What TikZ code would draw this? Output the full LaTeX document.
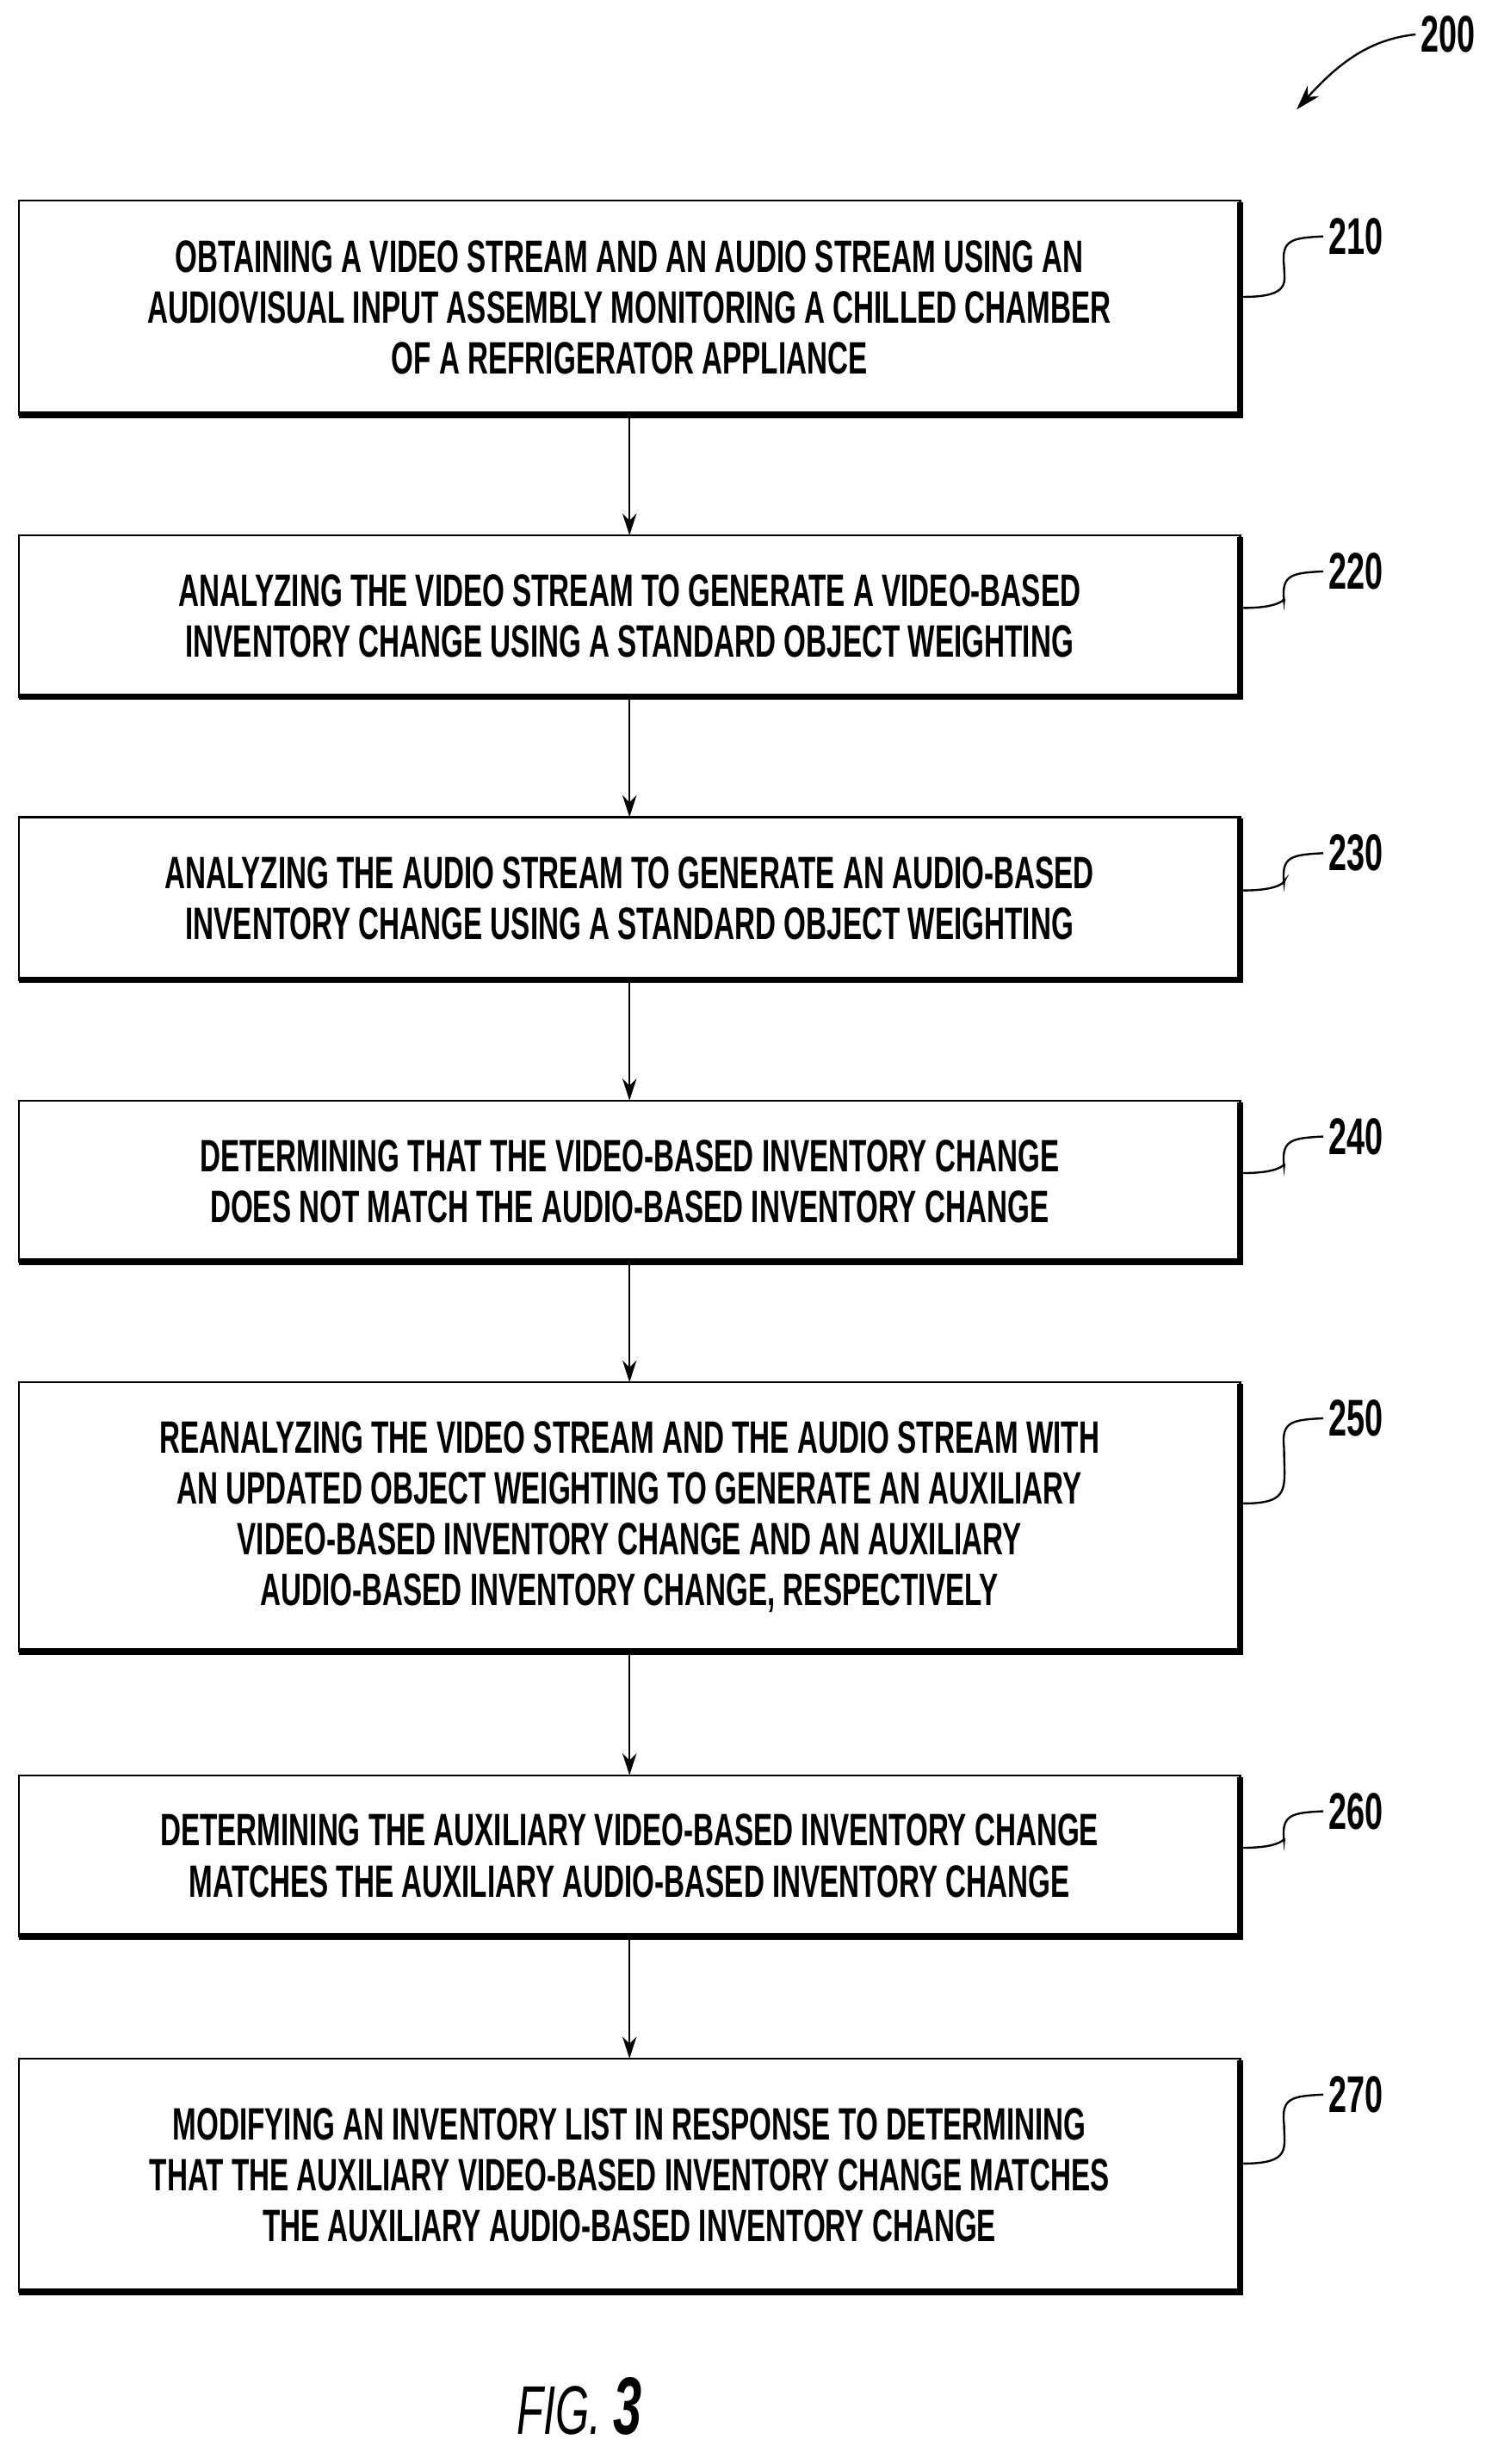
\documentclass[tikz,border=0pt]{standalone}
\usepackage{fontspec}
\setmainfont{Liberation Sans}[FakeStretch=0.63]
\usetikzlibrary{arrows.meta}
\begin{document}
\begin{tikzpicture}[x=1pt,y=-1pt,
  txt/.style={align=center,font=\fontsize{29}{32.5}\selectfont\bfseries},
  arr/.style={-{Stealth[length=14pt,width=9pt]},line width=1.3pt},
  lbl/.style={font=\fontsize{33}{33}\selectfont\bfseries,anchor=west}]
\useasboundingbox (0,0) rectangle (960,1574);
\def\bx#1#2#3#4#5{%
  \draw[line width=1.3pt] (12,#2) rectangle (792,#3);
  \draw[line width=4pt] (792,#2+1) -- (792,#3) -- (12,#3);
  \node[txt] (#1) at (402,{(#2+#3)/2}) {#4};
  \coordinate (#1t) at (402,#2);
  \coordinate (#1b) at (402,#3);
  \coordinate (#1s) at (794,{#2+0.45*(#3-#2)});
  \node[lbl] (#1l) at (845,{#2+23}) {#5};
  \draw[line width=1.3pt] (#1s) .. controls (825,{#2+0.45*(#3-#2)}) and (820,{#2+0.45*(#3-#2)-10}) .. (820,{#2+42})
     .. controls (818,{#2+25}) and (825,{#2+24}) .. (#1l.west);}
\bx{a}{128}{265}{OBTAINING A VIDEO STREAM AND AN AUDIO STREAM USING AN\\AUDIOVISUAL INPUT ASSEMBLY MONITORING A CHILLED CHAMBER\\OF A REFRIGERATOR APPLIANCE}{210}
\bx{b}{342}{445}{ANALYZING THE VIDEO STREAM TO GENERATE A VIDEO-BASED\\INVENTORY CHANGE USING A STANDARD OBJECT WEIGHTING}{220}
\bx{c}{522}{626}{ANALYZING THE AUDIO STREAM TO GENERATE AN AUDIO-BASED\\INVENTORY CHANGE USING A STANDARD OBJECT WEIGHTING}{230}
\bx{d}{703}{806}{DETERMINING THAT THE VIDEO-BASED INVENTORY CHANGE\\DOES NOT MATCH THE AUDIO-BASED INVENTORY CHANGE}{240}
\bx{e}{883}{1055}{REANALYZING THE VIDEO STREAM AND THE AUDIO STREAM WITH\\AN UPDATED OBJECT WEIGHTING TO GENERATE AN AUXILIARY\\VIDEO-BASED INVENTORY CHANGE AND AN AUXILIARY\\AUDIO-BASED INVENTORY CHANGE, RESPECTIVELY}{250}
\bx{f}{1134}{1237}{DETERMINING THE AUXILIARY VIDEO-BASED INVENTORY CHANGE\\MATCHES THE AUXILIARY AUDIO-BASED INVENTORY CHANGE}{260}
\bx{g}{1315}{1464}{MODIFYING AN INVENTORY LIST IN RESPONSE TO DETERMINING\\THAT THE AUXILIARY VIDEO-BASED INVENTORY CHANGE MATCHES\\THE AUXILIARY AUDIO-BASED INVENTORY CHANGE}{270}
\draw[arr] (ab) -- (bt);
\draw[arr] (bb) -- (ct);
\draw[arr] (cb) -- (dt);
\draw[arr] (db) -- (et);
\draw[arr] (eb) -- (ft);
\draw[arr] (fb) -- (gt);
\node[lbl] (n200) at (904,22) {200};
\coordinate (p200) at (828,70);
\draw[line width=1.3pt,-{Stealth[length=16pt,width=10pt]}] (n200.west) .. controls (875,25) and (855,40) .. (p200);
\node[font=\fontsize{44}{44}\selectfont\itshape] (fig) at (370,1537) {FIG. \fontsize{52}{52}\selectfont\bfseries 3};
\end{tikzpicture}
\end{document}
